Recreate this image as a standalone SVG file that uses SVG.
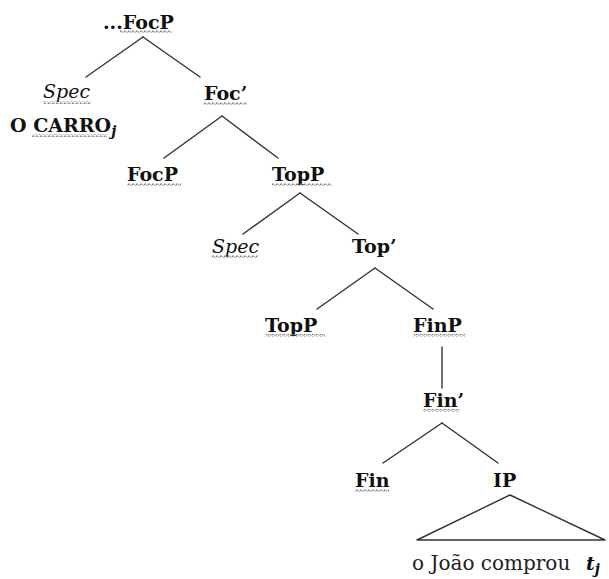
<svg xmlns="http://www.w3.org/2000/svg" width="609" height="579" viewBox="0 0 609 579">
  <style>
    .lbl { font-family: "DejaVu Serif", "Liberation Serif", serif; font-size: 19px; fill: #111; }
    .b { font-weight: bold; }
    .i { font-style: italic; }
    .plain { font-family: "DejaVu Serif", "Liberation Serif", serif; font-size: 20px; fill: #222; }
    .edge { stroke: #333; stroke-width: 1.4; fill: none; stroke-linecap: round; stroke-linejoin: round; }
    .squiggle { fill: url(#wave); }
  </style>
  <defs>
    <!-- spell-check style wavy underline -->
    <pattern id="wave" width="4" height="3" patternUnits="userSpaceOnUse">
      <path d="M0 2.5 L1 0.5 L3 2.5 L4 1.5" stroke="#808080" stroke-width="1" fill="none"/>
    </pattern>
  </defs>
  <rect width="609" height="579" fill="#fff"/>

  <g id="connectors">
    <line class="edge" x1="143" y1="37" x2="86" y2="77"/>
    <line class="edge" x1="143" y1="37" x2="200" y2="77"/>
    <line class="edge" x1="222" y1="116" x2="164" y2="158"/>
    <line class="edge" x1="222" y1="116" x2="278" y2="158"/>
    <line class="edge" x1="300" y1="193" x2="243" y2="234"/>
    <line class="edge" x1="300" y1="193" x2="358" y2="234"/>
    <line class="edge" x1="375" y1="268" x2="317" y2="309"/>
    <line class="edge" x1="375" y1="268" x2="433" y2="309"/>
    <line class="edge" x1="442" y1="347" x2="442" y2="388"/>
    <line class="edge" x1="442" y1="423" x2="383" y2="463"/>
    <line class="edge" x1="442" y1="423" x2="498" y2="463"/>
    <polygon class="edge" points="510,495 417,540 605,540"/>
  </g>

  <g id="focp-root">
    <text class="lbl b" x="103" y="29">...FocP</text>
    <rect class="squiggle" x="120" y="30" width="52" height="3"/>
  </g>
  <g id="spec-1">
    <text class="lbl i" x="43" y="98">Spec</text>
    <rect class="squiggle" x="43" y="101" width="48" height="3"/>
  </g>
  <g id="o-carro">
    <text class="lbl b" x="10" y="132">O CARRO<tspan class="i" font-size="14" dy="4">j</tspan></text>
    <rect class="squiggle" x="32" y="134" width="76" height="3"/>
  </g>
  <g id="foc-bar">
    <text class="lbl b" x="204" y="100">Foc’</text>
    <rect class="squiggle" x="203" y="102" width="44" height="3"/>
  </g>
  <g id="focp">
    <text class="lbl b" x="127" y="181">FocP</text>
    <rect class="squiggle" x="127" y="183" width="54" height="3"/>
  </g>
  <g id="topp-1">
    <text class="lbl b" x="272" y="181">TopP</text>
    <rect class="squiggle" x="272" y="183" width="60" height="3"/>
  </g>
  <g id="spec-2">
    <text class="lbl i" x="212" y="253">Spec</text>
    <rect class="squiggle" x="212" y="255" width="46" height="3"/>
  </g>
  <g id="top-bar">
    <text class="lbl b" x="352" y="253">Top’</text>
  </g>
  <g id="topp-2">
    <text class="lbl b" x="265" y="332">TopP</text>
    <rect class="squiggle" x="265" y="334" width="60" height="3"/>
  </g>
  <g id="finp">
    <text class="lbl b" x="413" y="332">FinP</text>
    <rect class="squiggle" x="413" y="334" width="52" height="3"/>
  </g>
  <g id="fin-bar">
    <text class="lbl b" x="423" y="407">Fin’</text>
    <rect class="squiggle" x="423" y="409" width="37" height="3"/>
  </g>
  <g id="fin">
    <text class="lbl b" x="355" y="487">Fin</text>
    <rect class="squiggle" x="355" y="489" width="34" height="3"/>
  </g>
  <g id="ip">
    <text class="lbl b" x="493" y="487">IP</text>
  </g>
  <g id="ip-content">
    <text class="plain" x="412" y="570">o João comprou</text>
    <text class="lbl b i" x="586" y="570">t<tspan font-size="14" dy="4">j</tspan></text>
  </g>
</svg>
